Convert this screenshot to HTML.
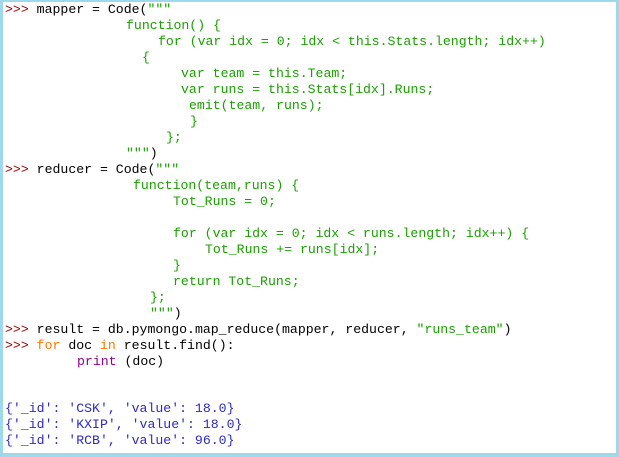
<!DOCTYPE html>
<html><head><style>
html,body{margin:0;padding:0}
body{width:619px;height:457px;position:relative;background:#9dd9ea;overflow:hidden}
#w{position:absolute;left:3px;top:2px;width:613px;height:451px;background:#fff}
.l{position:absolute;font-family:"Liberation Mono",monospace;font-size:13.2px;line-height:16px;white-space:pre;color:#000}
.p{color:#a00000}.g{color:#1aa000}.o{color:#ff7700}.v{color:#900090}.b{color:#2a2acc}
</style></head><body><div id="w"></div>
<div class="l" style="left:5px;top:2px"><span class="p">&gt;&gt;&gt;</span> mapper = Code(<span class="g">"""</span></div>
<div class="l g" style="left:126px;top:18px">function() {</div>
<div class="l g" style="left:158px;top:34px">for (var idx = 0; idx &lt; this.Stats.length; idx++)</div>
<div class="l g" style="left:142px;top:50px">{</div>
<div class="l g" style="left:181px;top:66px">var team = this.Team;</div>
<div class="l g" style="left:181px;top:82px">var runs = this.Stats[idx].Runs;</div>
<div class="l g" style="left:189px;top:98px">emit(team, runs);</div>
<div class="l g" style="left:190px;top:114px">}</div>
<div class="l g" style="left:166px;top:130px">};</div>
<div class="l" style="left:126px;top:146px"><span class="g">"""</span>)</div>
<div class="l" style="left:5px;top:162px"><span class="p">&gt;&gt;&gt;</span> reducer = Code(<span class="g">"""</span></div>
<div class="l g" style="left:133px;top:178px">function(team,runs) {</div>
<div class="l g" style="left:173px;top:194px">Tot_Runs = 0;</div>
<div class="l g" style="left:173px;top:226px">for (var idx = 0; idx &lt; runs.length; idx++) {</div>
<div class="l g" style="left:205px;top:242px">Tot_Runs += runs[idx];</div>
<div class="l g" style="left:173px;top:258px">}</div>
<div class="l g" style="left:173px;top:274px">return Tot_Runs;</div>
<div class="l g" style="left:150px;top:290px">};</div>
<div class="l" style="left:150px;top:306px"><span class="g">"""</span>)</div>
<div class="l" style="left:5px;top:322px"><span class="p">&gt;&gt;&gt;</span> result = db.pymongo.map_reduce(mapper, reducer, <span class="g">"runs_team"</span>)</div>
<div class="l" style="left:5px;top:338px"><span class="p">&gt;&gt;&gt;</span> <span class="o">for</span> doc <span class="o">in</span> result.find():</div>
<div class="l" style="left:77px;top:354px"><span class="v">print</span> (doc)</div>
<div class="l b" style="left:5px;top:401px">{'_id': 'CSK', 'value': 18.0}</div>
<div class="l b" style="left:5px;top:417px">{'_id': 'KXIP', 'value': 18.0}</div>
<div class="l b" style="left:5px;top:433px">{'_id': 'RCB', 'value': 96.0}</div>
</body></html>
